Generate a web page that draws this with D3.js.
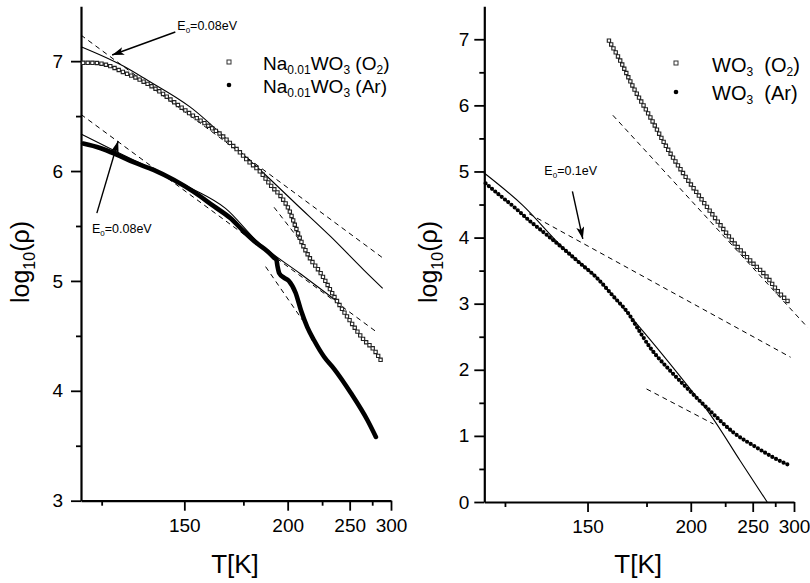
<!DOCTYPE html>
<html>
<head>
<meta charset="utf-8">
<script src="https://cdn.jsdelivr.net/npm/d3@7"></script>
<style>
  body { margin: 0; background: #fff; }
  svg { display: block; font-family: "Liberation Sans", Arial, sans-serif; }
  text { white-space: pre; }
</style>
</head>
<body>
<div id="chart"></div>
<script>
// ---- data: [T (K), log10(rho)] ----
const xTicks = [150, 200, 250, 300];
const xMinorTicks = [125, 175, 225, 275];
const leftYTicks = [3, 4, 5, 6, 7];
const leftYMinor = [3.5, 4.5, 5.5, 6.5];
const rightYTicks = [0, 1, 2, 3, 4, 5, 6, 7];
const rightYMinor = [0.5, 1.5, 2.5, 3.5, 4.5, 5.5, 6.5];

// Na0.01WO3
const naO2 = [[120.5,6.985],[122.9,6.985],[126.3,6.965],[130.7,6.90],[135.5,6.83],[140.7,6.74],
  [146.2,6.63],[152.2,6.52],[158.7,6.42],[165.8,6.31],[168.9,6.25],[172.8,6.18],[176.9,6.10],
  [183.9,5.99],[189.6,5.87],[195.6,5.77],[200.8,5.65],[205.3,5.49],[208.8,5.37],[214.8,5.22],
  [223.9,5.07],[235.2,4.86],[247.9,4.67],[265.6,4.46],[277.5,4.37],[288.4,4.25]];
const naAr = [[120.5,6.25],[124.6,6.21],[128.9,6.15],[133.6,6.08],[139.6,6.01],[146.2,5.92],
  [153.5,5.81],[161.5,5.68],[168.9,5.57],[175.2,5.45],[182.1,5.34],[187.7,5.27],[191.7,5.21],
  [193.0,5.19],[193.7,5.13],[194.7,5.07],[197.6,5.03],[200.8,5.00],[205.3,4.89],[209.0,4.73],
  [213.5,4.58],[218.6,4.46],[226.6,4.31],[235.2,4.20],[251.2,3.98],[269.5,3.73],[279.6,3.58]];
const naO2Fit = [[120.0,7.131],[130.7,6.955],[137.6,6.828],[152.2,6.582],[172.6,6.191],
  [185.5,5.982],[206.3,5.691],[232.3,5.403],[265.2,5.099],[288.4,4.933]];
const naArFit = [[120.0,6.337],[129.0,6.173],[138.6,6.027],[152.5,5.844],[166.6,5.66],
  [182.3,5.357],[208.8,5.063],[239.8,4.80]];
const naO2Arr = [[120.0,7.237],[288.4,5.21]];
const naArArr = [[120.0,6.515],[279.6,4.54]];
const naO2Steep = [[191.6,5.67],[209.9,5.34]];
const naArSteep = [[186.7,5.13],[210.0,4.644]];

// WO3
const wO2 = [[158.2,6.98],[162.7,6.69],[168.6,6.28],[176.7,5.83],[185.5,5.37],[195.3,4.97],
  [206.2,4.61],[218.4,4.26],[232.1,3.93],[247.7,3.65],[265.5,3.40],[277.4,3.20],[295.1,3.00]];
const wAr = [[120.3,4.82],[123.5,4.65],[127.4,4.46],[131.4,4.26],[136.3,4.05],[141.5,3.84],
  [147.1,3.62],[153.2,3.40],[159.8,3.12],[167.1,2.82],[170.1,2.66],[176.7,2.34],[187.4,1.99],
  [197.3,1.73],[213.2,1.38],[232.1,1.05],[254.5,0.82],[273.3,0.67],[290.5,0.57],[295.0,0.55]];
const wArFit = [[119.9,4.98],[129.6,4.49],[141.5,3.85],[153.2,3.41],[167.1,2.82],[180.1,2.34],
  [197.3,1.78],[213.2,1.33],[238.1,0.62],[265.5,0.0]];
const wArArr = [[131.4,4.36],[295.1,2.19]];
const wArLow = [[175.0,1.71],[215.8,1.18]];
const wO2Arr = [[159.8,5.85],[321.3,2.64]];

// annotations: text anchor and arrow [tail, tip], in data coords
const leftNotes = [
  { text: [147.5, 7.283], arrow: [[146.8, 7.265], [127.7, 7.056]], e: "0.08" },
  { text: [122.6, 5.436], arrow: [[123.8, 5.617], [129.3, 6.273]], e: "0.08" }
];
const rightNotes = [
  { text: [135.8, 4.94], arrow: [[144.7, 4.70], [148.3, 3.98]], e: "0.1" }
];

const W = 810, H = 583;
const svg = d3.select('#chart').append('svg')
  .attr('width', W).attr('height', H);
svg.append('rect').attr('width', W).attr('height', H).attr('fill', '#fff');

svg.append('defs').append('marker')
  .attr('id', 'arrow')
  .attr('viewBox', '0 0 12 8')
  .attr('refX', 12).attr('refY', 4)
  .attr('markerWidth', 12).attr('markerHeight', 8)
  .attr('markerUnits', 'userSpaceOnUse')
  .attr('orient', 'auto')
  .append('path').attr('d', 'M0,0 L12,4 L0,8 L3,4 Z').attr('fill', '#000');

function subText(sel, parts, subSize, shift) {
  // parts: array of [string, isSub]
  let prevSub = false;
  parts.forEach(([s, isSub]) => {
    const t = sel.append('tspan').text(s);
    if (isSub) t.attr('font-size', subSize).attr('dy', prevSub ? 0 : shift);
    else if (prevSub) t.attr('dy', -shift);
    prevSub = isSub;
  });
}

function drawPanel(p) {
  const g = svg.append('g');
  const x = d3.scaleLinear().domain([1 / 120, 1 / 300]).range([p.x0, p.x1]);
  const y = d3.scaleLinear().domain(p.yDomain).range([p.yBot, p.yTop]);
  const line = d3.line().x(d => x(1 / d[0])).y(d => y(d[1]));
  const smooth = d3.line().x(d => x(1 / d[0])).y(d => y(d[1])).curve(d3.curveMonotoneX);

  // axes
  const ax = g.append('g').attr('transform', `translate(0,${p.yBot})`);
  ax.call(d3.axisBottom(x).tickValues(xTicks.map(t => 1 / t)).tickFormat(d => Math.round(1 / d))
    .tickSize(10).tickSizeOuter(0).tickPadding(8));
  ax.append('g').call(d3.axisBottom(x).tickValues(xMinorTicks.map(t => 1 / t)).tickFormat('')
    .tickSize(5).tickSizeOuter(0)).select('.domain').remove();

  const ay = g.append('g').attr('transform', `translate(${p.x0},0)`);
  ay.call(d3.axisLeft(y).tickValues(p.yTicks).tickFormat(d3.format('d'))
    .tickSize(10).tickSizeOuter(0).tickPadding(p.yPad));
  ay.append('g').call(d3.axisLeft(y).tickValues(p.yMinor).tickFormat('').tickSize(5).tickSizeOuter(0))
    .select('.domain').remove();

  g.selectAll('.domain').attr('stroke', '#000').attr('stroke-width', 2.2);
  g.selectAll('.tick line').attr('stroke', '#000').attr('stroke-width', 1.8);
  g.selectAll('.tick text').attr('font-size', 19).attr('fill', '#000')
    .attr('font-family', '"Liberation Sans", Arial, sans-serif');

  // axis titles
  g.append('text').attr('x', (p.x0 + p.x1) / 2 - 1).attr('y', 573)
    .attr('text-anchor', 'middle').attr('font-size', 26).text('T[K]');
  const yl = g.append('text')
    .attr('transform', `translate(${p.yLabelX},262) rotate(-90)`)
    .attr('text-anchor', 'middle').attr('font-size', 25);
  subText(yl, [['log', false], ['10', true], ['(ρ)', false]], 16, 6);

  // fit lines
  p.dashed.forEach(d => g.append('path').attr('d', line(d)).attr('fill', 'none')
    .attr('stroke', '#000').attr('stroke-width', 1).attr('stroke-dasharray', '5,4'));
  p.solid.forEach(d => g.append('path').attr('d', smooth(d)).attr('fill', 'none')
    .attr('stroke', '#000').attr('stroke-width', 1.1));

  // open squares series
  const sq = g.append('g');
  sq.append('path').attr('d', smooth(p.open)).attr('fill', 'none')
    .attr('stroke', '#222').attr('stroke-width', 4.4).attr('stroke-linecap', 'square')
    .attr('stroke-dasharray', '0 4.6');
  sq.append('path').attr('d', smooth(p.open)).attr('fill', 'none')
    .attr('stroke', '#fff').attr('stroke-width', 2.2).attr('stroke-linecap', 'square')
    .attr('stroke-dasharray', '0 4.6');

  // filled series
  g.append('path').attr('d', smooth(p.filled)).attr('fill', 'none')
    .attr('stroke', '#000').attr('stroke-width', p.filledWidth).attr('stroke-linecap', 'round')
    .attr('stroke-dasharray', p.filledDash);

  // annotations
  p.notes.forEach(n => {
    g.append('line')
      .attr('x1', x(1 / n.arrow[0][0])).attr('y1', y(n.arrow[0][1]))
      .attr('x2', x(1 / n.arrow[1][0])).attr('y2', y(n.arrow[1][1]))
      .attr('stroke', '#000').attr('stroke-width', 1.4).attr('marker-end', 'url(#arrow)');
    const t = g.append('text').attr('x', x(1 / n.text[0])).attr('y', y(n.text[1]))
      .attr('font-size', 12.5);
    subText(t, [['E', false], ['0', true], ['=' + n.e + 'eV', false]], 8, 3);
  });

  // legend
  const lg = g.append('g');
  lg.append('rect').attr('x', p.leg.x - 2).attr('y', p.leg.y1 - 2).attr('width', 4).attr('height', 4)
    .attr('fill', '#fff').attr('stroke', '#333').attr('stroke-width', 1);
  lg.append('circle').attr('cx', p.leg.x).attr('cy', p.leg.y2).attr('r', 2.3).attr('fill', '#000');
  p.leg.labels.forEach((parts, i) => {
    const t = lg.append('text').attr('x', p.leg.tx).attr('y', i === 0 ? p.leg.b1 : p.leg.b2)
      .attr('font-size', p.leg.size);
    subText(t, parts, 12, 4);
  });
}

drawPanel({
  x0: 81, x1: 391, yBot: 500.7, yTop: 6.2, yDomain: [3, 7.5],
  yTicks: leftYTicks, yMinor: leftYMinor, yPad: 8, yLabelX: 29,
  open: naO2, filled: naAr, filledWidth: 4.6, filledDash: null,
  solid: [naO2Fit, naArFit],
  dashed: [naO2Arr, naArArr, naO2Steep, naArSteep],
  notes: leftNotes,
  leg: { x: 229, y1: 62, y2: 85, tx: 263, b1: 70, b2: 93, size: 19,
    labels: [
      [['Na', false], ['0.01', true], ['WO', false], ['3', true], [' (O', false], ['2', true], [')', false]],
      [['Na', false], ['0.01', true], ['WO', false], ['3', true], [' (Ar)', false]]
    ] }
});

drawPanel({
  x0: 484.3, x1: 794, yBot: 502, yTop: 6.2, yDomain: [0, 7.5],
  yTicks: rightYTicks, yMinor: rightYMinor, yPad: 5, yLabelX: 437,
  open: wO2, filled: wAr, filledWidth: 4.2, filledDash: '0 4.2',
  solid: [wArFit],
  dashed: [wArArr, wArLow, wO2Arr],
  notes: rightNotes,
  leg: { x: 676, y1: 63, y2: 92, tx: 712, b1: 72, b2: 100, size: 20,
    labels: [
      [['WO', false], ['3', true], ['  (O', false], ['2', true], [')', false]],
      [['WO', false], ['3', true], ['  (Ar)', false]]
    ] }
});
</script>
</body>
</html>
